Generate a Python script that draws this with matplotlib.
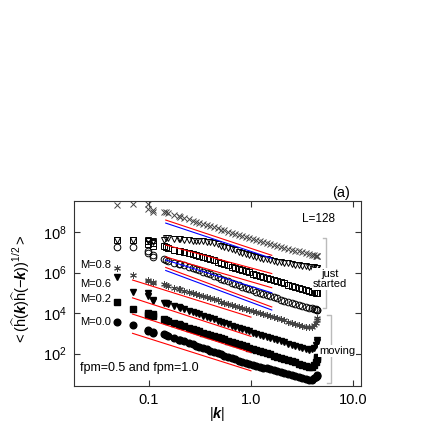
import numpy as np
import matplotlib.pyplot as plt

plt.rcParams['font.family'] = ['Liberation Sans', 'DejaVu Sans']
plt.rcParams['mathtext.fontset'] = 'custom'
plt.rcParams['mathtext.rm'] = 'Liberation Sans'
plt.rcParams['mathtext.it'] = 'Liberation Sans:italic'
plt.rcParams['mathtext.bf'] = 'Liberation Sans:bold'
plt.rcParams['mathtext.bfit'] = 'Liberation Sans:bold:italic'

# |k| values (L=128 lattice), shared by all series
k = [0.049, 0.069, 0.098, 0.098, 0.110, 0.110, 0.139, 0.147, 0.155, 0.177,
     0.196, 0.203, 0.221, 0.245, 0.27, 0.29, 0.31, 0.34, 0.37, 0.40,
     0.43, 0.47, 0.51, 0.55, 0.60, 0.65, 0.70, 0.76, 0.82, 0.89,
     0.96, 1.04, 1.13, 1.22, 1.32, 1.43, 1.55, 1.68, 1.82, 1.97,
     2.13, 2.31, 2.50, 2.71, 2.93, 3.17, 3.43, 3.71, 3.95, 4.15,
     4.30, 4.40, 4.44]

# log10 of <(h(k)h(-k))^1/2>, "just started"
log_m08_start = [9.33, 9.38, 9.38, 9.15, 9.10, 9.00, 8.97, 8.99, 8.95, 8.86,
                 8.80, 8.76, 8.70, 8.63, 8.56, 8.50, 8.46, 8.40, 8.34, 8.29,
                 8.24, 8.18, 8.12, 8.08, 8.02, 7.96, 7.91, 7.86, 7.80, 7.75,
                 7.70, 7.65, 7.60, 7.55, 7.50, 7.45, 7.40, 7.35, 7.31, 7.26,
                 7.21, 7.17, 7.13, 7.08, 7.04, 6.99, 6.95, 6.91, 6.87, 6.85,
                 6.83, 6.82, 6.81]
log_m06_start = [7.60, 7.60, 7.62, 7.55, 7.55, 7.50, 7.62, 7.70, 7.69, 7.67,
                 7.65, 7.64, 7.62, 7.60, 7.58, 7.57, 7.56, 7.54, 7.52, 7.50,
                 7.46, 7.39, 7.33, 7.27, 7.21, 7.15, 7.09, 7.03, 6.97, 6.91,
                 6.85, 6.80, 6.76, 6.73, 6.69, 6.65, 6.62, 6.58, 6.54, 6.51,
                 6.48, 6.45, 6.42, 6.39, 6.37, 6.34, 6.31, 6.28, 6.26, 6.25,
                 6.23, 6.22, 6.22]
log_m02_start = [7.60, 7.60, 7.55, 7.40, 7.45, 7.30, 7.30, 7.25, 7.20, 7.12,
                 7.06, 7.04, 7.00, 6.95, 6.90, 6.86, 6.82, 6.77, 6.70, 6.65,
                 6.60, 6.53, 6.47, 6.42, 6.35, 6.29, 6.24, 6.18, 6.12, 6.06,
                 6.01, 5.95, 5.90, 5.84, 5.78, 5.73, 5.67, 5.62, 5.56, 5.51,
                 5.46, 5.40, 5.35, 5.30, 5.25, 5.20, 5.15, 5.10, 5.06, 5.03,
                 5.01, 5.00, 4.99]
log_m00_start = [7.26, 7.26, 7.05, 6.95, 6.85, 6.75, 6.68, 6.62, 6.58, 6.49,
                 6.42, 6.40, 6.35, 6.28, 6.21, 6.16, 6.12, 6.04, 5.97, 5.91,
                 5.85, 5.77, 5.70, 5.64, 5.57, 5.50, 5.44, 5.37, 5.31, 5.25,
                 5.18, 5.12, 5.06, 5.01, 4.95, 4.89, 4.83, 4.77, 4.72, 4.66,
                 4.61, 4.56, 4.51, 4.46, 4.41, 4.36, 4.32, 4.27, 4.23, 4.20,
                 4.18, 4.16, 4.15]

# log10 values, "moving"
log_m08_move = [6.22, 5.88, 5.65, 5.60, 5.55, 5.50, 5.42, 5.38, 5.35, 5.26,
                5.19, 5.17, 5.11, 5.05, 4.98, 4.94, 4.89, 4.83, 4.78, 4.73,
                4.68, 4.62, 4.57, 4.52, 4.46, 4.41, 4.36, 4.31, 4.26, 4.21,
                4.16, 4.10, 4.05, 4.00, 3.95, 3.90, 3.84, 3.79, 3.74, 3.69,
                3.64, 3.58, 3.53, 3.48, 3.43, 3.38, 3.33, 3.30, 3.32, 3.40,
                3.52, 3.64, 3.75]
log_m06_move = [5.78, 5.04, 4.99, 4.85, 4.64, 4.60, 4.52, 4.50, 4.46, 4.36,
                4.28, 4.26, 4.19, 4.12, 4.04, 3.99, 3.94, 3.87, 3.81, 3.75,
                3.69, 3.63, 3.56, 3.51, 3.44, 3.38, 3.33, 3.26, 3.21, 3.15,
                3.09, 3.03, 2.98, 2.92, 2.87, 2.82, 2.76, 2.71, 2.65, 2.60,
                2.55, 2.49, 2.44, 2.38, 2.33, 2.28, 2.23, 2.19, 2.21, 2.30,
                2.42, 2.55, 2.67]
log_m02_move = [4.54, 4.20, 4.00, 3.90, 3.95, 3.85, 3.70, 3.65, 3.61, 3.52,
                3.44, 3.42, 3.36, 3.28, 3.21, 3.16, 3.11, 3.04, 2.98, 2.92,
                2.87, 2.81, 2.75, 2.70, 2.64, 2.58, 2.53, 2.47, 2.41, 2.36,
                2.30, 2.24, 2.18, 2.13, 2.07, 2.01, 1.96, 1.90, 1.84, 1.78,
                1.73, 1.67, 1.61, 1.56, 1.50, 1.44, 1.39, 1.34, 1.36, 1.45,
                1.58, 1.71, 1.83]
log_m00_move = [3.56, 3.41, 3.16, 3.10, 3.06, 3.00, 2.95, 2.91, 2.87, 2.77,
                2.69, 2.67, 2.60, 2.52, 2.45, 2.39, 2.34, 2.27, 2.21, 2.15,
                2.09, 2.02, 1.96, 1.90, 1.84, 1.78, 1.72, 1.65, 1.60, 1.54,
                1.48, 1.46, 1.41, 1.36, 1.31, 1.27, 1.22, 1.17, 1.12, 1.07,
                1.03, 0.98, 0.93, 0.88, 0.83, 0.79, 0.74, 0.70, 0.72, 0.78,
                0.85, 0.90, 0.95]

# guide lines (log10 values at both ends)
k_guide_start = [0.146, 1.6]
guide_red_start = [[8.59, 6.85], [7.36, 5.95], [6.77, 5.25], [6.25, 4.30]]
guide_blue_start = [[8.44, 6.70], [6.62, 5.00], [6.10, 4.15]]
k_guide_move = [0.069, 1.0]
guide_red_move = [[5.63, 3.80], [4.75, 2.85], [3.95, 2.05], [3.00, 1.15]]

k = np.array(k)

fig = plt.figure(figsize=(4.36, 4.36), dpi=100)
ax = fig.add_axes([74/436, 1 - 386/436, 287/436, 185/436])
ax.set_xscale('log')
ax.set_yscale('log')

ms = 4.8
ax.plot(k, 10**np.array(log_m08_start), ls='none', marker='x', ms=ms, mew=0.7, color='#444444')
ax.plot(k, 10**np.array(log_m06_start), ls='none', marker='v', ms=ms, mew=0.7, mfc='none', mec='black')
ax.plot(k, 10**np.array(log_m02_start), ls='none', marker='s', ms=ms, mew=0.7, mfc='none', mec='black')
ax.plot(k, 10**np.array(log_m00_start), ls='none', marker='o', ms=ms, mew=0.7, mfc='none', mec='black')
ax.plot(k, 10**np.array(log_m08_move), ls='none', marker=(6, 2, 0), ms=ms, mew=0.7, color='#444444')
ax.plot(k, 10**np.array(log_m06_move), ls='none', marker='v', ms=ms, color='black')
ax.plot(k, 10**np.array(log_m02_move), ls='none', marker='s', ms=ms, color='black')
ax.plot(k, 10**np.array(log_m00_move), ls='none', marker='o', ms=ms, color='black')

for g in guide_red_start:
    ax.plot(k_guide_start, 10**np.array(g), color='red', lw=0.8)
for g in guide_blue_start:
    ax.plot(k_guide_start, 10**np.array(g), color='blue', lw=0.8)
for g in guide_red_move:
    ax.plot(k_guide_move, 10**np.array(g), color='red', lw=0.8)

ax.set_xlim(0.0184, 12)
ax.set_ylim(10**0.40, 10**9.53)
ax.set_xticks([0.1, 1, 10])
ax.set_xticklabels(['0.1', '1.0', '10.0'])
ax.set_yticks([1e2, 1e4, 1e6, 1e8])
ax.set_yticklabels(['$10^2$', '$10^4$', '$10^6$', '$10^8$'])
ax.minorticks_off()
ax.tick_params(direction='in', top=True, right=True, length=4, width=0.8,
               labelsize=10.5, color='#333333', pad=5)
for s in ax.spines.values():
    s.set_color('#333333')
    s.set_linewidth(0.8)

ax.set_xlabel(r'$|\mathbfit{k}|$', fontsize=10.5)
ax.xaxis.set_label_coords(0.5, -0.10)
ax.set_ylabel(r'$<(\widehat{\mathrm{h}}(\mathbfit{k})\widehat{\mathrm{h}}(-\mathbfit{k}))^{1/2}>$',
              fontsize=10.5)
ax.yaxis.set_label_coords(-0.145, 0.52)

for txt, yy in [('M=0.8', 0.654), ('M=0.6', 0.551), ('M=0.2', 0.470), ('M=0.0', 0.346)]:
    ax.text(0.021, yy, txt, transform=ax.transAxes, fontsize=8, va='center')
ax.text(0.021, 0.097, 'fpm=0.5 and fpm=1.0', transform=ax.transAxes, fontsize=9, va='center')
ax.text(0.794, 0.903, 'L=128', transform=ax.transAxes, fontsize=8.5, va='center')
ax.text(0.93, 1.043, '(a)', transform=ax.transAxes, fontsize=10.5, ha='center', va='center')

# brackets
gray = '#bbbbbb'
ax.plot([0.866, 0.878, 0.878, 0.866], [0.80, 0.80, 0.4216, 0.4216], color=gray, lw=1,
        transform=ax.transAxes, clip_on=False)
ax.plot([0.883, 0.895, 0.895, 0.883], [0.384, 0.384, 0.016, 0.016], color=gray, lw=1,
        transform=ax.transAxes, clip_on=False)
ax.text(0.892, 0.578, 'just\nstarted', transform=ax.transAxes, fontsize=8, ha='center',
        va='center', linespacing=1.0, bbox=dict(facecolor='white', edgecolor='none', pad=0.5))
ax.text(0.916, 0.189, 'moving', transform=ax.transAxes, fontsize=8, ha='center',
        va='center', bbox=dict(facecolor='white', edgecolor='none', pad=0.5))

fig.savefig('out.png', dpi=100)
